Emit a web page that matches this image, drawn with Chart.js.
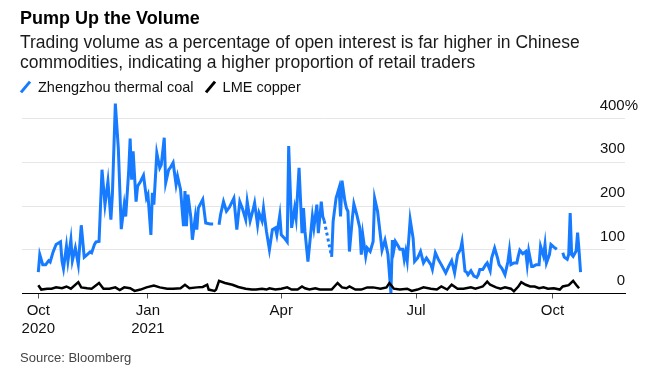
<!DOCTYPE html>
<html>
<head>
<meta charset="utf-8">
<script src="https://cdn.jsdelivr.net/npm/chart.js@4.4.1/dist/chart.umd.min.js"></script>
<style>
  body { margin: 0; background: #fff; font-family: "Liberation Sans", Arial, sans-serif; color: #000; }
  #wrap { position: relative; width: 664px; height: 375px; overflow: hidden; }
  #chartBox { position: absolute; left: 0; top: 0; width: 664px; height: 375px; }
  .t { position: absolute; left: 20px; white-space: nowrap; }
  #title { top: 8px; font-size: 18px; font-weight: bold; line-height: 20px; }
  #sub { top: 32px; font-size: 17.5px; line-height: 20px; color: #1a1a1a; }
  #legend { top: 78px; font-size: 14.5px; line-height: 18px; display: flex; color: #111; }
  .item { display: flex; align-items: center; margin-right: 11px; }
  .sw { display: inline-block; width: 3px; height: 14px; transform: rotate(40deg); margin: 0 11px 0 4px; }
  #source { top: 350px; font-size: 13px; line-height: 16px; color: #444; }
</style>
</head>
<body>
<div id="wrap">
  <div id="chartBox"><canvas id="volChart"></canvas></div>
  <div class="t" id="title">Pump Up the Volume</div>
  <div class="t" id="sub">Trading volume as a percentage of open interest is far higher in Chinese<br>commodities, indicating a higher proportion of retail traders</div>
  <div class="t" id="legend"></div>
  <div class="t" id="source">Source: Bloomberg</div>
</div>
<script>
// days counted from 19 Oct 2020
const seriesNames = ['Zhengzhou thermal coal', 'LME copper'];

const coalDays = [0, 1, 3, 5, 7, 8, 10, 12, 15, 16, 17, 19, 20, 22, 23, 25, 27, 29, 31, 33, 35, 36, 38, 39, 41,
  43, 45, 47, 49, 50, 52, 54, 56, 58, 59, 61, 62, 63, 64, 66, 67, 69, 71, 73, 74, 76, 77, 78, 80, 82, 83, 85,
  86, 88, 89, 91, 93, 94, 96, 98, 99, 100, 101, 103, 104, 106, 107, 108, 111, 113, 116, 118, 122, 123, 125,
  127, 129, 132, 134, 136, 138, 140, 141, 143, 145, 146, 148, 149, 151, 152, 154, 156, 158, 160, 161, 163,
  164, 166, 168, 169, 171, 173, 174, 176, 178, 179, 180, 182, 185, 186, 188, 189, 191, 192, 193, 195, 198,
  199, 201, 203, 204, 205, 207, 208, 209, 210, 212, 213, 215, 217, 218, 219, 221, 222, 224, 226, 227, 229,
  231, 232, 234, 236, 238, 239, 240, 241, 243, 244, 246, 247, 248, 249, 251, 253, 254, 256, 258, 260, 262,
  265, 266, 268, 270, 272, 275, 277, 279, 281, 283, 285, 286, 288, 289, 290, 292, 294, 296, 297, 298, 300,
  302, 303, 305, 306, 308, 310, 311, 313, 315, 317, 318, 319, 321, 323, 324, 325, 327, 329, 330, 331, 333,
  334, 336, 338, 339, 341, 342, 343, 345, 346, 348, 350, 354, 355, 357, 358, 359, 360, 361, 363, 364, 365, 366];

const coal = [49, 89, 66, 66, 75, 72, 95, 112, 118, 74, 57, 108, 74, 123, 75, 104, 66, 156, 83, 89, 95, 93, 113, 118, 119,
  283, 203, 256, 169, 226, 434, 333, 147, 203, 176, 279, 354, 260, 325, 210, 245, 256, 270, 218, 226, 134, 230, 203, 321, 287, 294, 356,
  253, 283, 287, 299, 249, 268, 238, 154, 234, 154, 226, 173, 123, 176, 146, 195, 215, 161, 159, 159, 157, 180, 210,
  188, 197, 218, 146, 210, 192, 169, 210, 166, 192, 207, 157, 184, 166, 195, 142, 100, 146, 150, 134, 179,
  134, 127, 118, 337, 150, 195, 172, 287, 138, 195, 142, 73, 176, 150, 203, 138, 210, 176, 166, null, 84,
  165, 218, 241, 176, 258, 210, 195, 188, 96, 173, 205, 180, 150, 89, 134, 85, 104, 96, 119, 218, 188,
  130, 99, 122, 89, 1, 122, 100, 119, 108, 101, 101, 78, 96, 75, 169, 126, 73, 81, 96, 70, 81,
  66, 55, 93, 78, 66, 47, 62, 75, 47, 89, 101, 118, 51, 49, 43, 52, 40, 37, 43, 55, 55,
  66, 70, 52, 81, 104, 81, 66, 57, 43, 73, 99, 66, 70, 70, 86, 99, 91, 96, 66, 97, 62,
  62, 66, 66, 108, 86, 112, 70, 89, 112, 106, 101, 93, 83, 78, 89, 184, 89, 85, 97, 139, 97, 49];

const copperDays = [0, 2, 6, 9, 12, 16, 19, 22, 27, 29, 33, 36, 41, 44, 48, 52, 55, 58, 62, 65, 69, 73, 78, 82, 87,
  91, 96, 99, 102, 107, 111, 114, 115, 119, 120, 122, 126, 131, 135, 140, 144, 147, 151, 154, 156, 160, 164,
  168, 171, 175, 178, 180, 183, 187, 190, 195, 198, 202, 205, 208, 210, 214, 218, 222, 226, 231, 235, 237,
  240, 244, 249, 252, 256, 260, 265, 269, 272, 276, 279, 283, 287, 292, 295, 298, 300, 303, 305, 309, 312,
  315, 319, 321, 324, 326, 329, 332, 335, 338, 341, 344, 348, 352, 354, 358, 361, 363, 365];

const copper = [19, 9, 11, 11, 14, 12, 16, 11, 26, 14, 12, 11, 24, 11, 11, 14, 8, 14, 12, 6, 9, 14, 18, 14, 11,
  11, 12, 20, 12, 14, 15, 20, 9, 6, 9, 29, 24, 20, 15, 11, 9, 9, 11, 9, 12, 9, 11,
  14, 9, 9, 16, 12, 9, 12, 9, 9, 9, 24, 14, 12, 16, 9, 9, 14, 14, 11, 14, 24,
  11, 9, 11, 6, 9, 14, 11, 9, 16, 9, 20, 11, 11, 14, 11, 14, 16, 27, 20, 14, 11,
  14, 11, 5, 16, 26, 20, 16, 16, 12, 14, 11, 12, 9, 16, 19, 29, 20, 12];

const xTickDays = [0, 74, 164, 255, 347];
const xTickLabels = [['Oct', '2020'], ['Jan', '2021'], 'Apr', 'Jul', 'Oct'];
const yTicks = [0, 100, 200, 300, 400];

const COAL_BLUE = '#167bff';
const COPPER_BLACK = '#000000';
const PCT_GAP = '\u2002\u2006\u2009'; // keeps the numbers lined up under "400"

Chart.defaults.font.family = '"Liberation Sans", Arial, sans-serif';

// legend
const legendEl = document.getElementById('legend');
[COAL_BLUE, COPPER_BLACK].forEach((color, i) => {
    const item = document.createElement('span');
    item.className = 'item';
    item.innerHTML = '<span class="sw" style="background:' + color + '"></span>' + seriesNames[i];
    legendEl.appendChild(item);
});

function toPoints(days, values) {
    return days.map((d, i) => ({ x: d, y: values[i] }));
}

const ctx = document.getElementById('volChart').getContext('2d');
new Chart(ctx, {
    type: 'line',
    data: {
        datasets: [{
            label: seriesNames[0],
            data: toPoints(coalDays, coal),
            borderColor: COAL_BLUE,
            borderWidth: 3,
            pointRadius: 0,
            spanGaps: true,
            order: 1,
            segment: {
                // holiday breaks: dashed where a day is missing, blank over longer closures
                borderDash: c => (c.p0.skip || c.p1.skip) ? [3, 3] : undefined,
                borderColor: c => (!c.p0.skip && !c.p1.skip && c.p1.parsed.x - c.p0.parsed.x > 3.5) ? 'rgba(0,0,0,0)' : undefined
            }
        }, {
            label: seriesNames[1],
            data: toPoints(copperDays, copper),
            borderColor: COPPER_BLACK,
            borderWidth: 2.5,
            pointRadius: 0,
            order: 0
        }]
    },
    options: {
        animation: false,
        responsive: true,
        maintainAspectRatio: false,
        layout: {
            padding: { top: 101, left: 22, right: 13, bottom: 36.5 }
        },
        plugins: {
            legend: { display: false },
            tooltip: { enabled: false }
        },
        scales: {
            x: {
                type: 'linear',
                min: -11,
                max: 396,
                afterBuildTicks: scale => {
                    scale.ticks = xTickDays.map(v => ({ value: v }));
                },
                afterFit: scale => {
                    scale.height = 45;
                },
                grid: {
                    drawOnChartArea: false,
                    drawTicks: true,
                    tickLength: 5,
                    color: '#555',
                    lineWidth: 1
                },
                border: { display: true, color: '#000', width: 1 },
                ticks: {
                    autoSkip: false,
                    maxRotation: 0,
                    padding: 3,
                    color: '#111',
                    font: { size: 15, lineHeight: 1.2 },
                    callback: (value, index) => xTickLabels[index]
                }
            },
            y: {
                position: 'right',
                min: 0,
                max: 440,
                afterBuildTicks: scale => {
                    scale.ticks = yTicks.map(v => ({ value: v }));
                },
                grid: { color: '#e6e6e6', lineWidth: 1, drawTicks: false },
                border: { display: false },
                ticks: {
                    mirror: true,
                    padding: 13,
                    labelOffset: -13,
                    color: '#111',
                    font: { size: 15 },
                    callback: value => value === 400 ? value + '%' : value + PCT_GAP
                }
            }
        }
    }
});
</script>
</body>
</html>
